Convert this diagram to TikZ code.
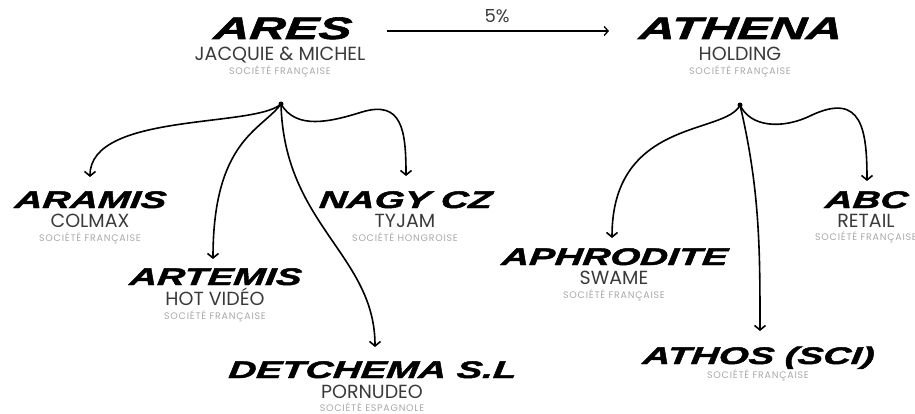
\documentclass[tikz,border=0pt]{standalone}
\usepackage{fontspec}
\usetikzlibrary{arrows.meta}
\newfontfamily\titlefont{Liberation Sans}[FakeStretch=1.6,FakeSlant=0.1,BoldItalicFeatures={FakeBold=2}]
\newfontfamily\subfont{Poppins}
\newfontfamily\socfont{Poppins}[LetterSpace=8]
\definecolor{subgray}{HTML}{3A3A3A}
\definecolor{socgray}{HTML}{A8A8A8}
\tikzset{
  big/.style={anchor=base, inner sep=0pt, font=\titlefont\bfseries\itshape\fontsize{31}{31}\selectfont},
  mid/.style={anchor=base, inner sep=0pt, font=\titlefont\bfseries\itshape\fontsize{24}{24}\selectfont},
  sub/.style={anchor=base, inner sep=0pt, text=subgray, font=\subfont\fontsize{19}{19}\selectfont},
  pctstyle/.style={anchor=south, inner sep=0pt, text=subgray, font=\subfont\fontsize{18}{18}\selectfont},
  soc/.style={anchor=base, inner sep=0pt, text=socgray, font=\socfont\fontsize{9.5}{9.5}\selectfont},
  dot/.style={circle, fill=black, inner sep=0pt, minimum size=5pt},
  link/.style={line width=1.6pt, -{Straight Barb[length=4.5pt,width=11pt,line width=1.6pt]}},
}
\begin{document}
\begin{tikzpicture}[x=1pt,y=-1pt]
\useasboundingbox (0,0) rectangle (915,414);
% top level
\node[big] (ares) at (282,39) {ARES};
\node[sub] (aressub) at (280,61) {JACQUIE \& MICHEL};
\node[soc] (aressoc) at (280,75) {SOCIÉTÉ FRANÇAISE};
\node[big] (athena) at (740,39) {ATHENA};
\node[sub] (athenasub) at (740,61) {HOLDING};
\node[soc] (athenasoc) at (740,75) {SOCIÉTÉ FRANÇAISE};
\coordinate (arrA) at (387,31);
\coordinate (arrB) at (609,31);
\node[pctstyle] (pct) at (497,23) {5\%};
\draw[line width=1.3pt, -{Straight Barb[length=4pt,width=9pt,line width=1.3pt]}] (arrA) -- (arrB);
% dots
\node[dot] (d1) at (281,104) {};
\node[dot] (d2) at (740,105) {};
% ARES children
\node[mid] (aramis) at (90,208) {ARAMIS};
\node[sub] (aramissub) at (90,227) {COLMAX};
\node[soc] (aramissoc) at (90,241) {SOCIÉTÉ FRANÇAISE};
\node[mid] (nagy) at (405,208) {NAGY CZ};
\node[sub] (nagysub) at (405,227) {TYJAM};
\node[soc] (nagysoc) at (405,241) {SOCIÉTÉ HONGROISE};
\node[mid] (artemis) at (215,285) {ARTEMIS};
\node[sub] (artemissub) at (215,305) {HOT VIDÉO};
\node[soc] (artemissoc) at (215,319) {SOCIÉTÉ FRANÇAISE};
\node[mid] (detchema) at (372,378) {DETCHEMA S.L};
\node[sub] (detchemasub) at (372,398) {PORNUDEO};
\node[soc] (detchemasoc) at (372,411) {SOCIÉTÉ ESPAGNOLE};
% ATHENA children
\node[mid] (aphro) at (614,265) {APHRODITE};
\node[sub] (aphrosub) at (614,284) {SWAME};
\node[soc] (aphrosoc) at (614,298) {SOCIÉTÉ FRANÇAISE};
\node[mid] (abc) at (866,208) {ABC};
\node[sub] (abcsub) at (866,227) {RETAIL};
\node[soc] (abcsoc) at (866,240) {SOCIÉTÉ FRANÇAISE};
\node[mid] (athos) at (758,364) {ATHOS (SCI)};
\node[soc] (athossoc) at (758,378) {SOCIÉTÉ FRANÇAISE};
% connectors
\coordinate (tAramis) at (90,177);
\coordinate (tNagy) at (406,176);
\coordinate (tArtemis) at (213,259);
\coordinate (tDetchema) at (375,347);
\coordinate (tAphro) at (612,238);
\coordinate (tAbc) at (867,181);
\coordinate (tAthos) at (760,331);
\draw[link] (d1.center) .. controls (255,128) and (90,112) .. (tAramis);
\draw[link] (d1.center) .. controls (262,130) and (213,140) .. (tArtemis);
\draw[link] (d1.center) .. controls (284,225) and (375,255) .. (tDetchema);
\draw[link] (d1.center) .. controls (296,130) and (330,122) .. (362,112) .. controls (402,100) and (406,130) .. (tNagy);
\draw[link] (d2.center) .. controls (726,135) and (612,118) .. (tAphro);
\draw[link] (d2.center) .. controls (750,127) and (782,130) .. (812,115) .. controls (862,92) and (867,130) .. (tAbc);
\draw[link] (d2.center) .. controls (760,190) and (760,250) .. (tAthos);
\end{tikzpicture}
\end{document}
